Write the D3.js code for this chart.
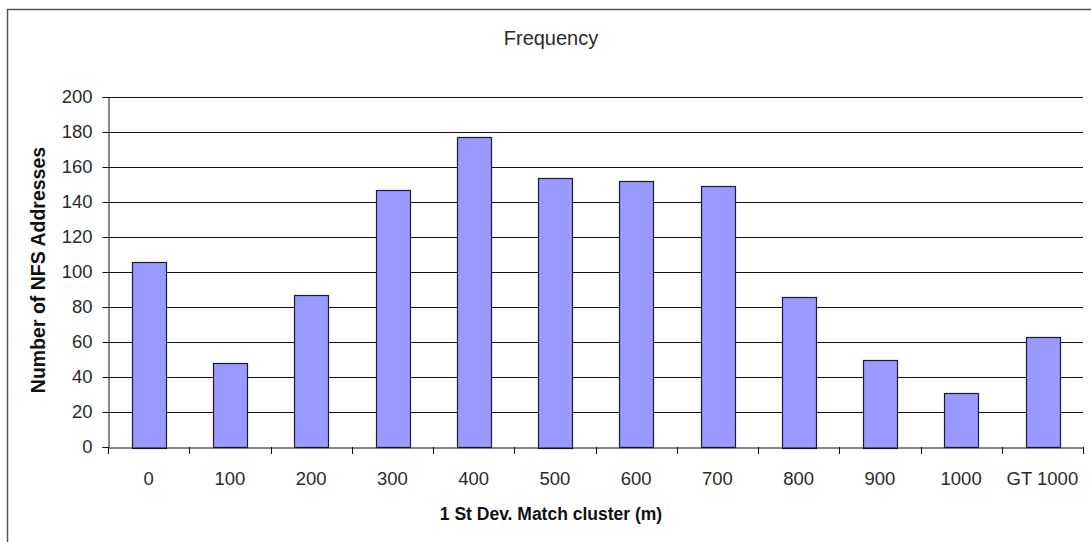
<!DOCTYPE html>
<html><head><meta charset="utf-8">
<script src="https://cdn.jsdelivr.net/npm/d3@7"></script>
<style>body{margin:0;background:#fff}svg{display:block}</style>
</head><body>
<script>
const categories = ["0","100","200","300","400","500","600","700","800","900","1000","GT 1000"];
const frequency = [106,48,87,147,177,154,152,149,86,50,31,63];
const yTicks = [0,20,40,60,80,100,120,140,160,180,200];
const chartTitle = "Frequency";
const xTitle = "1 St Dev. Match cluster (m)";
const yTitle = "Number of NFS Addresses";

const W = 1091, H = 542;
const svg = d3.select("body").append("svg").attr("width", W).attr("height", H);
const font = "'Liberation Sans', Arial, sans-serif";

svg.append("rect").attr("x", 7.5).attr("y", 9.5).attr("width", 1100).attr("height", 560)
  .attr("fill", "#fff").attr("stroke", "#555").attr("stroke-width", 1.5);

const L = 108, R = 1083, T = 97, B = 447;
const xBand = d3.scaleBand().domain(categories).range([L, R]).padding(0);
const xBar = d3.scaleBand().domain(categories).range([L, R]).paddingInner(0.585).paddingOuter(0.2925);
const y = d3.scaleLinear().domain([0, 200]).range([B, T]);

// gridlines
svg.append("g").selectAll("line").data(yTicks.filter(d => d > 0)).join("line")
  .attr("x1", L).attr("x2", R).attr("y1", d => Math.round(y(d)) + 0.5).attr("y2", d => Math.round(y(d)) + 0.5)
  .attr("stroke", "#111").attr("stroke-width", 1);

// y axis
const yAxis = d3.axisLeft(y).tickValues(yTicks).tickSize(6).tickPadding(10);
const gy = svg.append("g").attr("transform", `translate(${L + 0.5},0)`).call(yAxis);
gy.select(".domain").attr("stroke", "#111");
gy.selectAll(".tick line").attr("stroke", "#111");
gy.selectAll(".tick text").attr("font-family", font).attr("font-size", 18.5).attr("fill", "#2a2a2a");

// bars
svg.append("g").selectAll("rect").data(categories).join("rect")
  .attr("x", d => Math.round(xBar(d)) + 0.5)
  .attr("y", (d, i) => Math.round(y(frequency[i])) + 0.5)
  .attr("width", Math.round(xBar.bandwidth()))
  .attr("height", (d, i) => Math.round(B - y(frequency[i])))
  .attr("fill", "#9999FF").attr("stroke", "#1a1a33").attr("stroke-width", 1.2);

// x axis
const xAxis = d3.axisBottom(xBand).tickSize(0).tickPadding(24);
const gx = svg.append("g").attr("transform", `translate(0,${B + 0.5})`).call(xAxis);
gx.select(".domain").attr("stroke", "#111");
gx.selectAll(".tick text").attr("font-family", font).attr("font-size", 18.5).attr("fill", "#2a2a2a");
// boundary ticks
const bounds = categories.map(c => xBand(c)).concat([R]);
svg.append("g").selectAll("line").data(bounds).join("line")
  .attr("x1", d => Math.round(d) + 0.5).attr("x2", d => Math.round(d) + 0.5)
  .attr("y1", B).attr("y2", B + 7).attr("stroke", "#111");

// titles
svg.append("text").attr("x", 551).attr("y", 45).attr("text-anchor", "middle")
  .attr("font-family", font).attr("font-size", 20).attr("fill", "#2a2a2a").text(chartTitle);
svg.append("text").attr("x", 551).attr("y", 520).attr("text-anchor", "middle")
  .attr("font-family", font).attr("font-size", 17.5).attr("font-weight", "bold").attr("fill", "#111").text(xTitle);
svg.append("text").attr("transform", "translate(45,270) rotate(-90)").attr("text-anchor", "middle")
  .attr("font-family", font).attr("font-size", 19.5).attr("font-weight", "bold").attr("fill", "#111").text(yTitle);
</script>
</body></html>
